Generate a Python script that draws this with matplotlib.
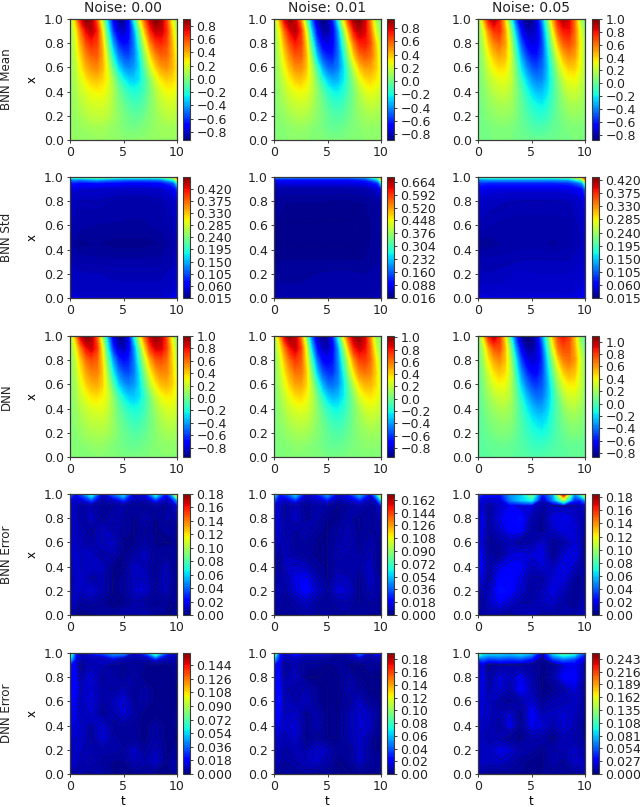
import numpy as np
import matplotlib
matplotlib.use('Agg')
import matplotlib.pyplot as plt

# grids, values, rows listed top (x=1) to bottom (x=0)
t_mean = [0, .5, 1, 1.5, 2, 2.5, 3, 3.5, 4, 4.5, 5, 5.5, 6, 6.5, 7, 7.5, 8, 8.5, 9, 9.5, 10]
x_mean = [1, .9, .8, .7, .6, .5, .4, .3, .2, .1, 0]
t_std = [0, .3, 1, 2.5, 4, 5.5, 7, 8.5, 9.7, 10]
x_std = [1, .98, .95, .9, .8, .6, .45, .3, .2, .05, 0]
t_err = [0, .5, 1, 2, 3, 4, 5, 6, 7, 8, 9, 9.5, 10]
x_err = [1, .95, .9, .8, .7, .6, .5, .4, .3, .2, .1, 0]

mean_00 = [
    [.02, .35, .72, .90, .85, .55, .12, -.32, -.72, -.88, -.90, -.72, -.22, .22, .55, .80, .90, .84, .60, .25, .02],
    [.03, .22, .50, .72, .80, .68, .30, -.18, -.58, -.78, -.82, -.72, -.42, -.02, .36, .65, .78, .78, .66, .35, .08],
    [.03, .18, .40, .58, .66, .62, .38, -.02, -.40, -.62, -.70, -.66, -.48, -.16, .18, .46, .62, .66, .60, .40, .14],
    [.03, .15, .32, .47, .55, .56, .42, .10, -.24, -.46, -.56, -.58, -.48, -.26, .04, .30, .46, .54, .54, .42, .20],
    [.03, .12, .26, .38, .45, .47, .40, .20, -.08, -.30, -.42, -.46, -.42, -.30, -.07, .16, .32, .42, .45, .40, .26],
    [.03, .10, .20, .28, .34, .36, .32, .24, .06, -.12, -.25, -.32, -.33, -.28, -.15, .02, .18, .28, .33, .32, .26],
    [.03, .08, .15, .20, .24, .26, .26, .20, .10, -.03, -.12, -.19, -.22, -.20, -.12, -.02, .10, .18, .24, .25, .21],
    [.03, .07, .11, .15, .18, .19, .19, .16, .09, .01, -.06, -.11, -.14, -.13, -.08, -.01, .07, .13, .17, .18, .15],
    [.03, .05, .08, .11, .13, .14, .14, .12, .08, .03, -.02, -.05, -.08, -.07, -.04, .01, .05, .09, .12, .13, .11],
    [.03, .04, .05, .06, .07, .08, .08, .06, .04, .02, -.01, -.03, -.03, -.02, 0, .02, .05, .06, .07, .07, .06],
    [.04, .04, .04, .04, .04, .05, .05, .04, .04, .03, .02, .02, .02, .02, .03, .04, .04, .05, .05, .05, .05],
]
mean_01 = [
    [.02, .42, .78, .92, .82, .50, .02, -.48, -.80, -.90, -.86, -.62, -.18, .30, .68, .90, .93, .80, .48, .12, .01],
    [.03, .26, .56, .76, .84, .68, .25, -.28, -.66, -.82, -.84, -.72, -.40, .04, .44, .74, .84, .78, .56, .22, .05],
    [.03, .20, .44, .62, .72, .66, .36, -.10, -.50, -.70, -.74, -.68, -.46, -.12, .24, .54, .70, .72, .62, .36, .12],
    [.03, .16, .35, .50, .60, .60, .42, .04, -.32, -.54, -.62, -.62, -.48, -.22, .10, .38, .55, .60, .56, .40, .18],
    [.03, .13, .28, .40, .49, .50, .40, .16, -.12, -.36, -.48, -.50, -.44, -.28, -.04, .20, .38, .46, .46, .38, .22],
    [.03, .10, .21, .30, .37, .39, .33, .20, .01, -.18, -.31, -.36, -.34, -.25, -.09, .08, .24, .33, .36, .32, .24],
    [.03, .08, .16, .22, .26, .28, .26, .18, .07, -.06, -.16, -.22, -.23, -.18, -.08, .03, .14, .22, .26, .24, .19],
    [.03, .07, .12, .16, .19, .20, .19, .14, .07, -.01, -.08, -.13, -.14, -.11, -.05, .03, .10, .15, .18, .17, .13],
    [.03, .05, .08, .11, .13, .14, .13, .10, .06, .01, -.03, -.07, -.08, -.06, -.02, .03, .07, .10, .12, .12, .09],
    [.03, .04, .05, .06, .08, .08, .07, .05, .03, .01, -.02, -.03, -.03, -.01, .01, .03, .05, .07, .07, .07, .06],
    [.04, .04, .04, .05, .05, .05, .05, .04, .04, .03, .02, .02, .02, .02, .03, .04, .04, .05, .05, .05, .05],
]
mean_05 = [
    [.02, .45, .80, .92, .78, .40, -.05, -.50, -.78, -.86, -.88, -.74, -.40, .05, .48, .80, .92, .85, .60, .20, .02],
    [.03, .26, .55, .72, .74, .52, .14, -.30, -.62, -.78, -.80, -.74, -.50, -.10, .32, .64, .78, .80, .62, .32, .08],
    [.03, .20, .42, .56, .62, .52, .24, -.14, -.48, -.66, -.72, -.70, -.54, -.20, .16, .46, .64, .68, .60, .36, .12],
    [.03, .15, .32, .44, .50, .46, .28, -.04, -.34, -.52, -.62, -.62, -.52, -.26, .04, .30, .48, .55, .52, .34, .14],
    [.03, .12, .25, .34, .39, .38, .26, .04, -.22, -.38, -.49, -.52, -.46, -.30, -.06, .18, .34, .42, .42, .32, .15],
    [.03, .10, .19, .25, .29, .30, .24, .08, -.10, -.25, -.36, -.41, -.40, -.28, -.10, .08, .23, .31, .32, .26, .14],
    [.03, .08, .14, .19, .22, .23, .19, .10, -.03, -.15, -.24, -.30, -.30, -.23, -.09, .04, .15, .22, .24, .20, .13],
    [.03, .06, .11, .14, .16, .17, .15, .09, 0, -.08, -.15, -.19, -.21, -.16, -.06, .03, .10, .15, .17, .15, .11],
    [.03, .05, .08, .10, .12, .12, .11, .07, .01, -.04, -.09, -.12, -.13, -.10, -.04, .02, .07, .10, .12, .11, .08],
    [.03, .04, .05, .06, .07, .07, .06, .04, .02, -.01, -.04, -.05, -.05, -.03, 0, .02, .04, .06, .06, .06, .05],
    [.04, .04, .04, .05, .05, .05, .05, .04, .03, .02, .01, .01, .01, .02, .02, .03, .04, .04, .05, .05, .05],
]

# DNN panels keep the lower rows of the BNN mean, the two top rows are stronger
dnn_top_00 = [
    [.02, .45, .85, 1.0, .95, .62, .14, -.36, -.78, -.94, -.95, -.76, -.24, .24, .60, .88, .98, .92, .66, .28, .02],
    [.03, .26, .56, .78, .86, .72, .32, -.20, -.62, -.82, -.86, -.76, -.44, -.02, .38, .70, .84, .84, .70, .38, .08],
]
dnn_top_01 = [
    [.02, .45, .85, 1.0, .92, .58, .06, -.50, -.84, -.94, -.92, -.66, -.20, .32, .72, .96, 1.0, .86, .52, .14, .01],
    [.03, .28, .58, .80, .88, .72, .28, -.30, -.68, -.84, -.86, -.74, -.42, .04, .46, .78, .88, .82, .60, .24, .05],
]
dnn_top_05 = [
    [.02, .45, .85, 1.0, .84, .44, -.05, -.52, -.80, -.86, -.86, -.72, -.38, .05, .50, .78, .88, .78, .52, .15, .01],
    [.03, .26, .55, .74, .76, .54, .14, -.32, -.64, -.80, -.82, -.74, -.50, -.08, .34, .66, .76, .74, .56, .28, .06],
]

# std and error grids in thousandths
std_00 = [
    [200, 230, 230, 260, 230, 220, 220, 230, 280, 400],
    [110, 130, 130, 150, 130, 120, 120, 130, 200, 300],
    [70, 80, 70, 75, 70, 65, 65, 70, 110, 180],
    [48, 50, 48, 46, 44, 44, 44, 46, 60, 90],
    [40, 40, 34, 36, 32, 30, 30, 34, 42, 55],
    [38, 36, 30, 28, 28, 28, 28, 30, 36, 48],
    [36, 26, 22, 24, 22, 22, 22, 24, 30, 44],
    [38, 36, 32, 30, 30, 30, 30, 30, 36, 48],
    [42, 40, 38, 38, 36, 36, 36, 36, 40, 52],
    [48, 44, 40, 40, 40, 40, 40, 40, 46, 62],
    [60, 55, 50, 48, 48, 48, 48, 48, 55, 75],
]
std_01 = [
    [180, 200, 210, 200, 200, 200, 200, 230, 380, 520],
    [100, 110, 110, 110, 110, 110, 110, 130, 240, 400],
    [70, 70, 70, 70, 70, 70, 70, 80, 130, 240],
    [44, 44, 42, 42, 42, 42, 42, 44, 60, 100],
    [34, 34, 30, 30, 30, 28, 28, 30, 38, 50],
    [32, 28, 24, 24, 24, 24, 24, 26, 32, 44],
    [30, 26, 24, 24, 24, 24, 24, 26, 34, 44],
    [34, 28, 30, 30, 30, 30, 30, 30, 36, 46],
    [38, 34, 34, 34, 36, 38, 38, 36, 38, 48],
    [46, 40, 38, 38, 40, 40, 40, 38, 42, 56],
    [58, 50, 46, 46, 46, 46, 46, 46, 50, 70],
]
std_05 = [
    [190, 210, 220, 220, 220, 220, 220, 230, 310, 380],
    [110, 125, 130, 130, 130, 130, 130, 140, 220, 320],
    [75, 85, 80, 80, 80, 80, 80, 85, 120, 200],
    [55, 55, 52, 50, 50, 50, 50, 52, 65, 100],
    [45, 42, 38, 36, 34, 34, 34, 36, 44, 60],
    [38, 34, 32, 30, 30, 30, 30, 30, 38, 50],
    [30, 24, 24, 28, 30, 30, 26, 30, 36, 46],
    [38, 34, 34, 34, 36, 36, 36, 36, 40, 50],
    [42, 36, 36, 38, 42, 40, 40, 40, 42, 54],
    [48, 44, 42, 42, 44, 44, 44, 44, 48, 64],
    [60, 54, 50, 50, 50, 50, 50, 50, 56, 76],
]

err_bnn_00 = [
    [50, 20, 35, 75, 15, 40, 65, 15, 20, 75, 25, 55, 130],
    [20, 14, 16, 35, 8, 14, 30, 10, 10, 30, 12, 20, 50],
    [14, 10, 6, 8, 4, 5, 6, 4, 4, 6, 5, 8, 20],
    [12, 11, 5, 10, 4, 8, 5, 3, 8, 3, 6, 5, 10],
    [12, 10, 8, 4, 11, 6, 5, 3, 5, 3, 4, 4, 6],
    [11, 11, 8, 6, 10, 12, 3, 3, 6, 3, 3, 3, 5],
    [10, 12, 10, 10, 5, 8, 3, 6, 10, 4, 5, 4, 4],
    [8, 12, 10, 10, 10, 3, 3, 10, 8, 3, 10, 5, 4],
    [6, 11, 12, 6, 8, 3, 4, 10, 10, 4, 11, 6, 4],
    [8, 14, 10, 15, 8, 3, 4, 11, 12, 5, 10, 5, 5],
    [8, 11, 5, 6, 4, 2, 3, 6, 5, 3, 4, 3, 4],
    [6, 5, 2, 3, 4, 5, 8, 6, 9, 5, 3, 3, 5],
]
err_bnn_01 = [
    [75, 25, 30, 60, 15, 25, 50, 15, 25, 55, 20, 50, 115],
    [35, 16, 14, 28, 8, 12, 24, 8, 14, 26, 10, 20, 55],
    [18, 11, 5, 8, 4, 6, 5, 3, 5, 8, 5, 6, 20],
    [16, 13, 5, 10, 4, 6, 3, 3, 6, 3, 5, 5, 10],
    [14, 11, 6, 5, 8, 4, 3, 5, 8, 3, 5, 5, 6],
    [13, 8, 8, 4, 5, 3, 3, 6, 8, 4, 6, 5, 5],
    [10, 5, 8, 6, 4, 3, 3, 8, 6, 5, 8, 5, 4],
    [8, 4, 10, 11, 10, 4, 3, 6, 5, 6, 10, 5, 4],
    [8, 6, 6, 16, 19, 8, 3, 10, 8, 3, 10, 6, 5],
    [8, 8, 5, 14, 22, 11, 5, 13, 11, 3, 8, 6, 5],
    [6, 6, 4, 6, 10, 5, 4, 6, 6, 3, 5, 5, 5],
    [5, 4, 3, 4, 6, 5, 6, 4, 5, 4, 3, 3, 5],
]
err_bnn_05 = [
    [40, 25, 25, 25, 50, 60, 95, 25, 55, 175, 50, 70, 125],
    [22, 14, 14, 14, 45, 60, 70, 14, 45, 100, 30, 30, 50],
    [13, 13, 6, 13, 19, 16, 16, 6, 10, 10, 10, 10, 16],
    [16, 17, 6, 17, 22, 25, 9, 4, 16, 17, 14, 9, 9],
    [17, 16, 6, 12, 22, 22, 6, 4, 12, 16, 14, 12, 6],
    [20, 14, 4, 6, 9, 5, 7, 14, 4, 7, 14, 12, 4],
    [24, 16, 6, 4, 14, 16, 14, 17, 4, 13, 19, 13, 4],
    [26, 17, 7, 16, 20, 20, 10, 14, 10, 19, 12, 7, 6],
    [20, 14, 6, 22, 23, 16, 6, 6, 14, 17, 6, 4, 7],
    [13, 7, 10, 26, 23, 13, 5, 10, 17, 10, 4, 4, 9],
    [9, 6, 12, 19, 13, 7, 7, 10, 12, 6, 4, 6, 10],
    [7, 6, 7, 7, 4, 9, 10, 6, 6, 7, 7, 9, 12],
]
err_dnn_00 = [
    [90, 25, 10, 25, 30, 45, 45, 15, 30, 75, 30, 15, 15],
    [55, 22, 8, 8, 10, 18, 10, 6, 8, 25, 10, 8, 8],
    [22, 19, 4, 8, 8, 4, 3, 4, 3, 3, 3, 3, 4],
    [18, 21, 6, 14, 4, 5, 3, 6, 2, 3, 2, 2, 4],
    [19, 21, 10, 11, 6, 5, 8, 3, 6, 2, 2, 2, 3],
    [21, 18, 8, 14, 5, 8, 14, 4, 6, 2, 2, 2, 3],
    [18, 16, 8, 11, 4, 6, 12, 6, 2, 2, 2, 2, 4],
    [16, 12, 11, 5, 13, 4, 5, 4, 2, 6, 2, 2, 4],
    [13, 10, 11, 4, 14, 6, 3, 4, 2, 6, 2, 2, 3],
    [11, 10, 8, 6, 6, 6, 5, 10, 4, 8, 3, 3, 4],
    [10, 10, 6, 8, 4, 3, 3, 8, 6, 10, 3, 5, 5],
    [6, 6, 5, 4, 5, 3, 3, 3, 3, 3, 2, 3, 5],
]
err_dnn_01 = [
    [115, 30, 15, 30, 20, 20, 20, 10, 15, 45, 15, 25, 25],
    [60, 24, 10, 12, 8, 8, 6, 5, 6, 14, 6, 8, 12],
    [26, 21, 5, 8, 4, 4, 3, 4, 3, 3, 5, 4, 5],
    [20, 22, 7, 12, 3, 3, 3, 3, 7, 3, 3, 3, 3],
    [22, 24, 8, 5, 8, 4, 3, 3, 8, 5, 3, 3, 3],
    [22, 26, 10, 7, 10, 4, 3, 3, 5, 12, 4, 4, 3],
    [20, 22, 10, 12, 4, 7, 3, 3, 8, 14, 10, 7, 4],
    [19, 17, 12, 15, 4, 7, 3, 3, 8, 14, 12, 5, 4],
    [15, 12, 8, 14, 3, 5, 3, 3, 8, 12, 7, 3, 4],
    [12, 8, 7, 8, 7, 14, 10, 4, 4, 12, 5, 3, 4],
    [10, 8, 5, 7, 10, 12, 7, 3, 4, 12, 5, 4, 5],
    [7, 5, 4, 4, 5, 4, 4, 3, 3, 4, 3, 3, 6],
]
err_dnn_05 = [
    [145, 95, 90, 90, 85, 95, 80, 15, 90, 120, 105, 70, 50],
    [50, 55, 45, 50, 45, 50, 35, 8, 45, 60, 50, 30, 22],
    [18, 19, 6, 10, 10, 8, 8, 4, 6, 19, 24, 19, 11],
    [19, 24, 8, 20, 14, 24, 11, 3, 11, 28, 29, 19, 11],
    [22, 22, 11, 19, 11, 28, 14, 3, 5, 10, 21, 14, 8],
    [21, 19, 14, 8, 5, 11, 19, 6, 11, 11, 14, 13, 6],
    [19, 18, 14, 11, 19, 5, 28, 13, 14, 19, 14, 11, 6],
    [18, 14, 13, 8, 24, 6, 24, 19, 11, 19, 13, 8, 5],
    [16, 13, 11, 11, 6, 4, 11, 10, 4, 13, 10, 8, 6],
    [16, 14, 14, 22, 19, 11, 8, 5, 10, 11, 16, 11, 11],
    [14, 16, 14, 16, 11, 6, 4, 4, 10, 6, 19, 14, 14],
    [10, 8, 5, 5, 5, 5, 5, 5, 6, 5, 6, 8, 13],
]

mean_ticks = [-.8, -.6, -.4, -.2, 0, .2, .4, .6, .8]
dnn_ticks = mean_ticks + [1.0]
std_ticks_a = [.015, .06, .105, .15, .195, .24, .285, .33, .375, .42]
std_ticks_b = [.016, .088, .16, .232, .304, .376, .448, .52, .592, .664]
err_ticks_a = [0, .02, .04, .06, .08, .10, .12, .14, .16, .18]
err_ticks_b = [0, .018, .036, .054, .072, .09, .108, .126, .144, .162]
err_ticks_c = [0, .018, .036, .054, .072, .09, .108, .126, .144]
err_ticks_d = [0, .027, .054, .081, .108, .135, .162, .189, .216, .243]

noise_titles = ['Noise: 0.00', 'Noise: 0.01', 'Noise: 0.05']
row_names = ['BNN Mean', 'BNN Std', 'DNN', 'BNN Error', 'DNN Error']


def panel(field, scale, ts, xs, lim, ticks, decimals):
    return dict(z=np.array(field, dtype=float) * scale, t=ts, x=xs, lim=lim, ticks=ticks, decimals=decimals)


panels = [
    [panel(mean_00, 1, t_mean, x_mean, (-.92, .90), mean_ticks, 1),
     panel(mean_01, 1, t_mean, x_mean, (-.89, .936), mean_ticks, 1),
     panel(mean_05, 1, t_mean, x_mean, (-.88, 1.0), dnn_ticks, 1)],
    [panel(std_00, .001, t_std, x_std, (.015, .463), std_ticks_a, 3),
     panel(std_01, .001, t_std, x_std, (.016, .69), std_ticks_b, 3),
     panel(std_05, .001, t_std, x_std, (.015, .431), std_ticks_a, 3)],
    [panel(np.vstack([dnn_top_00, mean_00[2:]]), 1, t_mean, x_mean, (-.95, 1.0), dnn_ticks, 1),
     panel(np.vstack([dnn_top_01, mean_01[2:]]), 1, t_mean, x_mean, (-.95, 1.02), dnn_ticks, 1),
     panel(np.vstack([dnn_top_05, mean_05[2:]]), 1, t_mean, x_mean, (-.86, 1.09), dnn_ticks, 1)],
    [panel(err_bnn_00, .001, t_err, x_err, (0, .18), err_ticks_a, 2),
     panel(err_bnn_01, .001, t_err, x_err, (0, .17), err_ticks_b, 3),
     panel(err_bnn_05, .001, t_err, x_err, (0, .185), err_ticks_a, 2)],
    [panel(err_dnn_00, .001, t_err, x_err, (0, .16), err_ticks_c, 3),
     panel(err_dnn_01, .001, t_err, x_err, (0, .19), err_ticks_a, 2),
     panel(err_dnn_05, .001, t_err, x_err, (0, .255), err_ticks_d, 3)],
]

W, H = 640, 807
col_left = [70, 274, 478]
bar_left = [183, 387, 592]
row_top = [19, 177, 336, 494, 653]
ax_w, ax_h, bar_w = 107, 121, 7
edge = '#3a3a3a'


def box(left, top, w, h):
    return [left / W, 1 - (top + h) / H, w / W, h / H]


plt.rcParams['font.family'] = 'DejaVu Sans'
plt.rcParams['text.color'] = '#222222'
fig = plt.figure(figsize=(W / 100, H / 100), dpi=100)

for i, row in enumerate(panels):
    for j, p in enumerate(row):
        ax = fig.add_axes(box(col_left[j], row_top[i], ax_w, ax_h))
        levels = np.linspace(p['lim'][0], p['lim'][1], 100)
        cf = ax.contourf(p['t'], p['x'], np.clip(p['z'], p['lim'][0], p['lim'][1]), levels=levels, cmap='jet')
        # the std and error panels show faint dark contour traces in the original
        if i == 1:
            ax.contour(p['t'], p['x'], p['z'], levels=[.025, .035, .045], colors='#14145a',
                       linewidths=.6, linestyles=':', alpha=.6)
        if i >= 3:
            ax.contour(p['t'], p['x'], p['z'], levels=[.003, .005, .007, .010, .013, .017], colors='#14145a',
                       linewidths=.6, linestyles='--', alpha=.6)
        ax.set_xlim(0, 10)
        ax.set_ylim(0, 1)
        ax.set_xticks([0, 5, 10])
        ax.set_yticks([0, .2, .4, .6, .8, 1.0])
        ax.tick_params(labelsize=9, length=2.5, width=.7, pad=2, color=edge, labelcolor='#222222')
        for s in ax.spines.values():
            s.set_linewidth(.9)
            s.set_color(edge)
        if j == 0:
            ax.set_ylabel('x', fontsize=8.6, labelpad=4)
            fig.text(6.5 / W, 1 - (row_top[i] + ax_h / 2) / H, row_names[i], rotation=90,
                     fontsize=8.6, ha='center', va='center')
        if i == 0:
            ax.set_title(noise_titles[j], fontsize=10, pad=5)
        if i == 4:
            ax.set_xlabel('t', fontsize=8.6, labelpad=1.5)

        cax = fig.add_axes(box(bar_left[j], row_top[i], bar_w, ax_h))
        cb = fig.colorbar(cf, cax=cax, ticks=p['ticks'])
        cb.ax.set_yticklabels([f"{v:.{p['decimals']}f}".replace('-', '\u2212') for v in p['ticks']])
        cb.ax.tick_params(labelsize=9, length=2.5, width=.7, pad=2, color=edge, labelcolor='#222222')
        cb.outline.set_linewidth(.8)
        cb.outline.set_edgecolor(edge)

fig.savefig('out.png', dpi=100)
